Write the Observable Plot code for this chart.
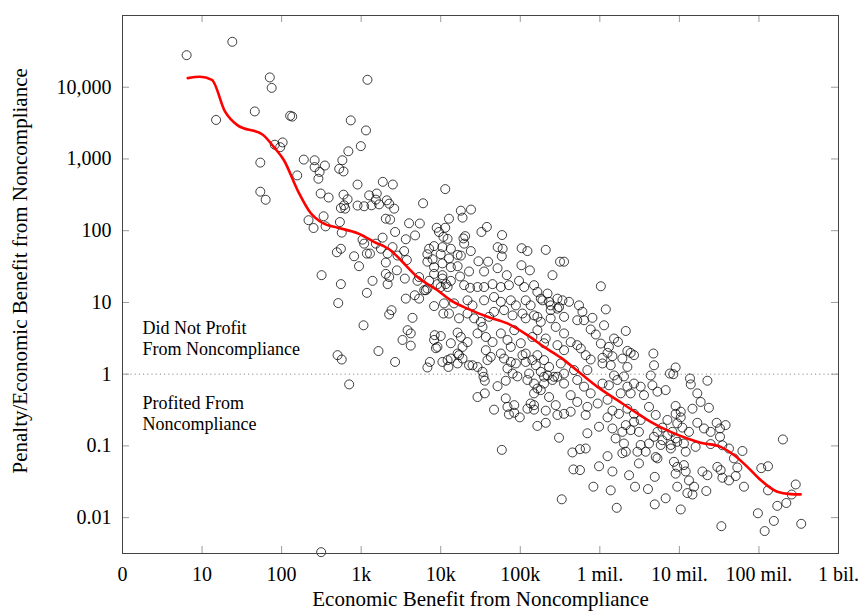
<!DOCTYPE html>
<html>
<head>
<meta charset="utf-8">
<script src="https://cdn.jsdelivr.net/npm/d3@7"></script>
<script src="https://cdn.jsdelivr.net/npm/@observablehq/plot@0.6"></script>
<style>
  html, body { margin: 0; padding: 0; background: #fff; }
  #chart { width: 865px; height: 613px; }
</style>
</head>
<body>
<div id="chart"></div>
<script>
// Tick values and labels
const xTickValues = [1, 10, 100, 1e3, 1e4, 1e5, 1e6, 1e7, 1e8, 1e9];
const xTickLabels = ["0", "10", "100", "1k", "10k", "100k", "1 mil.", "10 mil.", "100 mil.", "1 bil."];
const yTickValues = [0.01, 0.1, 1, 10, 100, 1000, 10000];
const yTickLabels = ["0.01", "0.1", "1", "10", "100", "1,000", "10,000"];

const xTitle = "Economic Benefit from Noncompliance";
const yTitle = "Penalty/Economic Benefit from Noncompliance";
const upperNote = "Did Not Profit\nFrom Noncompliance";
const lowerNote = "Profited From\nNoncompliance";

// Smoothed trend (red line): economic benefit, ratio
const trendBenefit = [6.6, 9.4, 13.3, 19.4, 28, 58, 80, 107, 159, 233, 327, 506, 902, 1445, 2360, 3160, 5100, 9100, 13400, 21700, 38700, 69000, 123000, 199000, 323000, 575000, 933000, 1.66e6, 2.96e6, 4.36e6, 7.78e6, 1.26e7, 1.85e7, 3.3e7, 4.85e7, 7.15e7, 1.05e8, 1.7e8, 2.5e8, 3.34e8];
const trendRatio = [13400, 14000, 12700, 4600, 2940, 2180, 1465, 960, 365, 175, 128, 110, 92, 70, 53, 38.7, 22.6, 14.8, 10.7, 8.2, 6.3, 5.1, 3.5, 2.4, 1.7, 1.02, 0.665, 0.434, 0.284, 0.217, 0.157, 0.127, 0.111, 0.097, 0.0745, 0.051, 0.0334, 0.023, 0.0213, 0.0211];

// Cases: [economic benefit, penalty / economic benefit]
const cases = [
[6.4,28000],[24,43000],[71,13700],[75,9800],[46,4600],[15,3500],[128,4000],[136,3900],[103,1700],[82,1580],[96,1460],[54,890],[190,980],[260,960],[350,810],[260,770],[300,660],[290,530],[157,590],[54,350],[63,270],[310,330],[390,290],
[1200,12700],[740,3450],[1150,2500],[990,1510],[690,1280],[580,960],[530,730],[600,670],[900,440],[1870,480],[2500,440],[11400,380],
[17900,190],[24000,197],[12700,147],[18800,152],[11400,110],[38000,113],[32500,96],[59000,87],[20300,84],[19300,78],[12200,77],
[600,318],[675,274],[1260,311],[1570,330],[1530,271],[2100,265],[2250,238],[1350,226],[1680,233],[900,224],[1090,219],[610,226],[556,207],[630,203],[2600,203],[6000,241],[2040,147],[2310,143],[337,159],[218,140],[252,109],[357,115],[540,132],[570,94],[4000,127],[5460,126],[8900,110],[2670,96],[4760,86],[3640,76],[10800,82],[7150,56],[8250,61],[10500,59],[13400,56],[1040,75],[1090,66],[1860,80],[1530,66],[2480,59],[3470,52],[556,56],[495,50],[1180,48],[1290,48],[1770,56],[2150,48],[2870,45],[815,44],[940,32],[2040,36],[3750,39],[6800,37],[6800,47],[10000,47],[10500,35],[12700,41],[16300,46],[13400,31],[16300,32],[8250,31],[10500,24],[8250,25],[13400,20],[11600,18],[9100,18],[7150,20],[6800,15.6],[5100,20],[3540,21.5],[2810,28],[2040,25],[2250,22.6],[2150,18],[1390,20],[318,24],[556,18],[1180,13.6],[515,9.8],[3640,11.3],[4720,12.6],[6200,14.8],[8250,8.9],[10800,7.0],[12700,7.0],[2250,6.8],[2410,7.8],[4420,6.1],[1070,4.8],[3830,4.1],[4200,3.7],[8400,3.5],[10000,3.4],[16300,3.8],
[3310,3.0],[4200,2.5],[1650,2.1],[505,1.84],[570,1.6],[2670,1.48],[8250,3.0],[8700,2.3],[13400,2.7],[7300,1.48],[6800,1.24],[10500,1.48],[12200,1.57],[12500,1.26],[16300,1.94],[16300,1.41],[707,0.72],[314,0.0033],
[9500,96],[19700,66],[52000,59],[60000,56],[58600,44],[104000,57],[123000,52],[209000,54],[17900,45],[23900,52],[7900,40],[22700,27],[29800,37.5],[39400,37],[35100,27],[51800,30],[67700,24],[103500,33],[132000,28],[254000,24],[316000,37],[5350,22.6],[10500,21.5],[17500,23],[19700,17.4],[23400,16],[29000,16.4],[12200,16.4],[10000,16.4],[6500,14.8],[35100,16.4],[44800,18],[57000,16.4],[72000,17.4],[96500,20],[112000,16.4],[149000,17.4],[164000,14],[220000,13.3],[293000,11.3],[5350,11.3],[11000,9.7],[14700,9.7],[21700,10.7],[25100,9.1],[35100,10.7],[46800,11.9],[57000,10.2],[76000,10.7],[88000,9.1],[117000,10.7],[135000,9.1],[190000,10.7],[241000,9.1],[293000,8.2],[17000,6.0],[21700,7.0],[26300,6.0],[31900,5.35],[40600,6.3],[46800,7.4],[62500,7.8],[80000,6.6],[106500,7.0],[117000,6.0],[149000,6.6],[181000,5.35],[241000,6.0],[279000,4.56],[9100,2.4],[17900,3.3],[21700,2.8],[18800,2.4],[29000,3.7],[33500,4.56],[36900,3.3],[44800,2.8],[57000,3.7],[69000,3.0],[84000,4.1],[76000,2.4],[101500,2.7],[117000,1.94],[142000,3.3],[164000,4.1],[199000,2.7],[36900,2.16],[42600,1.74],[57000,1.94],[17000,1.84],[13400,1.65],
[18800,1.65],[22700,1.33],[25100,1.33],[29000,1.26],[33500,1.08],[34500,0.92],[35800,0.81],[38700,1.57],[62500,1.65],[76000,1.48],[69000,1.2],[80000,1.02],[92000,0.93],[88000,1.41],[106500,1.84],[117000,1.48],[142000,1.57],[157000,1.33],[123000,0.83],[149000,0.74],[129000,1.02],[181000,1.08],[220000,0.96],[254000,0.83],[199000,0.74],[293000,0.92],[51800,0.68],[65700,0.81],[29000,0.48],[35800,0.54],[65700,0.46],[46800,0.32],[69000,0.35],[84000,0.37],[72000,0.275],[84000,0.29],[98500,0.25],[123000,0.33],[135000,0.39],[149000,0.32],[149000,0.54],[181000,0.6],[230000,0.48],[209000,0.31],[279000,0.37],[293000,0.27],[164000,0.19],[209000,0.21],[307000,0.13],[58600,0.088],
[355000,37],[1030000,16.8],[181000,11.3],[230000,10.2],[339000,10.7],[410000,10.2],[547000,9.1],[604000,7.4],[1190000,8.0],[307000,8.6],[241000,7.8],[355000,6.3],[164000,6.3],[520000,5.65],[633000,5.65],[807000,6.1],[1130000,4.8],[767000,4.2],[890000,3.57],[2120000,4.0],[209000,3.14],[355000,3.7],[430000,2.8],[520000,2.54],[576000,2.28],[293000,2.54],[355000,2.16],[164000,1.84],[1030000,2.67],[1300000,2.4],[1510000,3.14],[1690000,2.82],[1250000,1.98],[1080000,1.69],[767000,1.6],[664000,1.84],[1440000,1.78],[1920000,1.65],[2220000,2.11],[2440000,1.98],[2690000,1.84],[4710000,1.94],[4800000,1.33],[8970000,1.24],[7600000,1.02],[8400000,1.0],[13600000,0.87],[13900000,0.72],[2220000,1.26],[4360000,0.96],[2010000,0.93],[1510000,0.96],[1370000,1.33],[1080000,1.41],[323000,1.41],[230000,1.26],[199000,1.57],[355000,1.02],[474000,1.14],[697000,1.14],[199000,0.92],[266000,0.92],[355000,0.74],[520000,0.83],[633000,0.67],[1080000,0.74],[1300000,0.7],[1660000,0.83],[2220000,0.67],[2690000,0.74],[3260000,0.67],[3590000,0.51],[4580000,0.7],[5300000,0.57],[6720000,0.6],[1830000,0.54],[2440000,0.54],[767000,0.54],[430000,0.51],[164000,0.63],[16800000,0.54],
[149000,0.37],[355000,0.28],[430000,0.3],[520000,0.41],[697000,0.35],[664000,0.27],[940000,0.39],[1250000,0.44],[1440000,0.31],[1740000,0.28],[2220000,0.33],[2690000,0.28],[3260000,0.23],[4150000,0.35],[5040000,0.27],[1250000,0.25],[977000,0.185],[697000,0.15],[452000,0.081],[563000,0.09],[664000,0.092],[1440000,0.175],[1580000,0.127],[1920000,0.157],[2120000,0.195],[2440000,0.166],[2690000,0.217],[3100000,0.157],[2010000,0.108],[2120000,0.083],[1920000,0.079],[2970000,0.083],[3770000,0.083],[3260000,0.103],[4150000,0.108],[4800000,0.134],[5300000,0.157],[6120000,0.12],[7070000,0.141],[5830000,0.103],[7800000,0.103],[9400000,0.114],[11400000,0.108],[8170000,0.157],[9400000,0.206],[7070000,0.23],[8970000,0.28],[10400000,0.3],[14600000,0.33],[16800000,0.21],[13200000,0.157],[12000000,0.083],[5040000,0.07],[5300000,0.067],[8550000,0.06],[9400000,0.051],[11400000,0.054],[8970000,0.041],[12000000,0.044],[13200000,0.033],[15300000,0.027],[9400000,0.027],[12600000,0.022],[14600000,0.021],[19500000,0.044],[977000,0.052],[1250000,0.072],[1440000,0.044],[466000,0.047],[563000,0.046],[2330000,0.039],[3100000,0.057],[4900000,0.037],[830000,0.027],[1370000,0.024],[2770000,0.027],[4030000,0.025],[332000,0.018],[6720000,0.0186],[4900000,0.0153],[1630000,0.0137],[10400000,0.013],
[22500000,0.81],[18500000,0.41],[23500000,0.34],[8970000,0.36],[10400000,0.25],[29400000,0.21],[38100000,0.195],[32400000,0.175],[20400000,0.175],[24700000,0.157],[32400000,0.134],[10900000,0.18],[6120000,0.18],[8970000,0.127],[7800000,0.092],[16000000,0.097],[24700000,0.106],[34700000,0.102],[42000000,0.092],[62000000,0.085],[48500000,0.067],[53500000,0.05],[22500000,0.039],[30000000,0.051],[33000000,0.046],[34700000,0.036],[42000000,0.033],[51000000,0.038],[21800000,0.0235],[64800000,0.027],[107000000,0.049],[130000000,0.052],[130000000,0.024],[200000000,0.123],[290000000,0.029],[258000000,0.021],[221000000,0.016],[170000000,0.0146],[97000000,0.0115],[154000000,0.009],[118000000,0.0065],[340000000,0.0082],[33700000,0.0076]
];

const points = cases.map(([benefit, ratio]) => ({benefit, ratio}));
const trend = trendBenefit.map((benefit, i) => ({benefit, ratio: trendRatio[i]}));
const xLabel = new Map(xTickValues.map((v, i) => [v, xTickLabels[i]]));
const yLabel = new Map(yTickValues.map((v, i) => [v, yTickLabels[i]]));

const W = 865, H = 613, mL = 122, mR = 27, mT = 15, mB = 60;
const frameW = W - mL - mR, frameH = H - mT - mB, tick = 7;
const font = "'Liberation Serif', 'Times New Roman', serif";

const chart = Plot.plot({
  width: W, height: H,
  marginLeft: mL, marginRight: mR, marginTop: mT, marginBottom: mB,
  style: {fontFamily: font, fontSize: "20px", background: "#fff", color: "#000"},
  x: {type: "log", domain: [1, 1e9], label: null},
  y: {type: "log", domain: [10 ** -2.5, 1e5], label: null},
  marks: [
    Plot.ruleY([1], {stroke: "#8a8a8a", strokeWidth: 1, strokeDasharray: "1.2,3"}),
    Plot.dot(points, {x: "benefit", y: "ratio", r: 4.5, stroke: "#000", strokeWidth: 1, strokeOpacity: 0.75, fill: "none"}),
    Plot.line(trend, {x: "benefit", y: "ratio", stroke: "#ff0000", strokeWidth: 2.6, curve: "monotone-x"}),
    // inward tick marks on all four sides
    Plot.ruleX(xTickValues, {insetTop: frameH - tick, stroke: "#9a9a9a"}),
    Plot.ruleX(xTickValues, {insetBottom: frameH - tick, stroke: "#9a9a9a"}),
    Plot.ruleY(yTickValues, {insetRight: frameW - tick, stroke: "#9a9a9a"}),
    Plot.ruleY(yTickValues, {insetLeft: frameW - tick, stroke: "#9a9a9a"}),
    Plot.frame({stroke: "#444", strokeWidth: 1}),
    Plot.axisX({ticks: xTickValues, tickFormat: d => xLabel.get(d), tickSize: 0, tickPadding: 13, fontSize: 20, label: null}),
    Plot.axisY({ticks: yTickValues, tickFormat: d => yLabel.get(d), tickSize: 0, tickPadding: 11, fontSize: 20, label: null}),
    Plot.text([upperNote], {frameAnchor: "left", y: [1], dx: 20, dy: -19, textAnchor: "start", lineAnchor: "bottom", lineHeight: 1.2, fontSize: 18}),
    Plot.text([lowerNote], {frameAnchor: "left", y: [1], dx: 20, dy: 19, textAnchor: "start", lineAnchor: "top", lineHeight: 1.2, fontSize: 18}),
    Plot.text([xTitle], {frameAnchor: "bottom", dy: 46, lineAnchor: "middle", fontSize: 21}),
    Plot.text([yTitle], {frameAnchor: "bottom-left", rotate: -90, textAnchor: "start", lineAnchor: "middle", dx: -102, dy: -80, fontSize: 21})
  ]
});
document.getElementById("chart").appendChild(chart);
</script>
</body>
</html>
